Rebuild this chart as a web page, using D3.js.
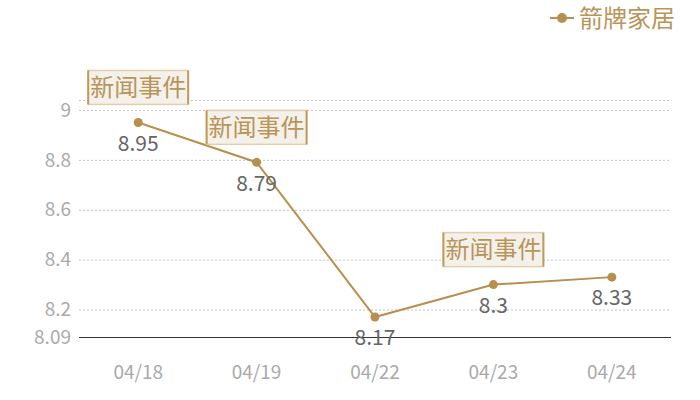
<!DOCTYPE html>
<html>
<head>
<meta charset="utf-8">
<script src="https://cdn.jsdelivr.net/npm/d3@7/dist/d3.min.js"></script>
<style>
  body { margin: 0; background: #fff; }
  svg { font-family: "Noto Sans CJK SC", "Noto Sans", sans-serif; }
</style>
</head>
<body>
<svg width="700" height="400"></svg>
<script>
// data
const dates = ["04/18", "04/19", "04/22", "04/23", "04/24"];
const prices = [8.95, 8.79, 8.17, 8.3, 8.33];
const yTicks = [8.2, 8.4, 8.6, 8.8, 9];
const yMin = 8.09, yMax = 9.04;
const eventDates = ["04/18", "04/19", "04/23"];
const seriesName = "箭牌家居";
const eventLabel = "新闻事件";

const gold = "#b8904e";
const svg = d3.select("svg");
const margin = {top: 100, right: 29, bottom: 63, left: 79};
const w = 700 - margin.left - margin.right;
const h = 400 - margin.top - margin.bottom;

const x = d3.scaleBand().domain(dates).range([0, w]);
const y = d3.scaleLinear().domain([yMin, yMax]).range([h, 0]);
const cx = d => x(d) + x.bandwidth() / 2;

const g = svg.append("g").attr("transform", `translate(${margin.left},${margin.top})`);

// grid lines (incl. top edge)
g.selectAll(".grid").data(yTicks.concat([yMax]))
  .enter().append("line")
  .attr("x1", 0).attr("x2", w)
  .attr("y1", d => y(d) + 0.5).attr("y2", d => y(d) + 0.5)
  .attr("stroke", "#c4c4c4").attr("stroke-dasharray", "2,2");

// y labels
g.selectAll(".ylab").data(yTicks.concat([yMin]))
  .enter().append("text")
  .attr("x", -8).attr("y", d => y(d)).attr("dy", "0.35em")
  .attr("text-anchor", "end").attr("fill", "#aaa").attr("font-size", 19)
  .text(d => d);

// x axis
g.append("line").attr("x1", 0).attr("x2", w).attr("y1", h + 0.5).attr("y2", h + 0.5)
  .attr("stroke", "#333").attr("stroke-width", 1);
g.selectAll(".xlab").data(dates)
  .enter().append("text")
  .attr("x", cx).attr("y", h + 35).attr("dy", "0.35em")
  .attr("text-anchor", "middle").attr("fill", "#aaa").attr("font-size", 19)
  .text(d => d);

// line
const line = d3.line().x((d, i) => cx(dates[i])).y(d => y(d));
g.append("path").datum(prices).attr("d", line)
  .attr("fill", "none").attr("stroke", gold).attr("stroke-width", 2);

g.selectAll(".pt").data(prices).enter().append("circle")
  .attr("cx", (d, i) => cx(dates[i])).attr("cy", d => y(d)).attr("r", 4.5)
  .attr("fill", gold);

// value labels
g.selectAll(".val").data(prices).enter().append("text")
  .attr("x", (d, i) => cx(dates[i])).attr("y", d => y(d) + 21).attr("dy", "0.35em")
  .attr("text-anchor", "middle").attr("fill", "#666").attr("font-size", 21)
  .text(d => d);

// event marks
const ev = g.selectAll(".ev").data(eventDates).enter().append("g")
  .attr("transform", d => `translate(${cx(d)},${y(prices[dates.indexOf(d)]) - 35})`);
ev.append("rect").attr("x", -50).attr("y", -17).attr("width", 100).attr("height", 34)
  .attr("fill", "#f4f0ea").attr("stroke", "#e3cfae").attr("stroke-width", 1.5);
ev.append("line").attr("x1", -50).attr("x2", -50).attr("y1", -17).attr("y2", 17)
  .attr("stroke", "#c29a5c").attr("stroke-width", 2);
ev.append("line").attr("x1", 50).attr("x2", 50).attr("y1", -17).attr("y2", 17)
  .attr("stroke", "#c29a5c").attr("stroke-width", 2);
ev.append("text").attr("y", 0).attr("dy", "0.36em").attr("text-anchor", "middle")
  .attr("fill", "#b8955a").attr("font-size", 24).text(eventLabel);

// legend
const lg = svg.append("g").attr("transform", "translate(562,18)");
lg.append("line").attr("x1", -12).attr("x2", 12).attr("stroke", gold).attr("stroke-width", 2);
lg.append("circle").attr("r", 5).attr("fill", gold);
lg.append("text").attr("x", 17).attr("dy", "0.36em").attr("fill", "#b8955a")
  .attr("font-size", 24).text(seriesName);
</script>
</body>
</html>
